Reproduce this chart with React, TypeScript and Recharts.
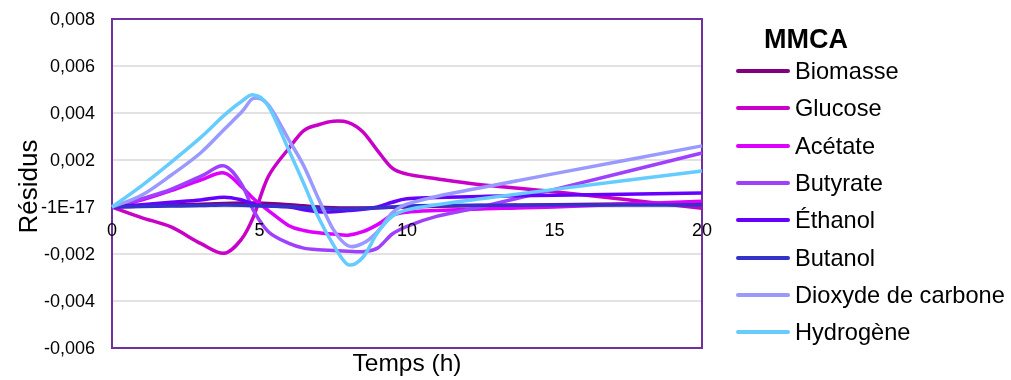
import React from 'react';
import { LineChart, Line, XAxis, YAxis, CartesianGrid, ReferenceArea, Label } from 'recharts';

// Time points (h)
const times = [0, 1, 2, 3, 3.8, 4.4, 4.8, 5.3, 6, 6.5, 7, 7.5, 8, 8.5, 9, 9.5, 10, 11, 12.5, 15, 20];

// Residuals, in units of 1e-3
const UNIT = 1e-3;
const biomasse = [0, 0.04, 0.08, 0.12, 0.15, 0.17, 0.17, 0.15, 0.1, 0.05, 0.0, -0.03, -0.04, -0.04, -0.03, -0.01, 0.0, 0.03, 0.06, 0.1, 0.15];
const glucose = [0, -0.45, -0.85, -1.55, -1.97, -1.35, -0.4, 1.3, 2.5, 3.25, 3.5, 3.65, 3.6, 3.2, 2.4, 1.65, 1.4, 1.2, 0.95, 0.65, -0.05];
const acetate = [0, 0.3, 0.7, 1.15, 1.45, 0.85, 0.35, -0.15, -0.8, -1.0, -1.1, -1.15, -1.2, -1.05, -0.75, -0.35, -0.22, -0.15, -0.08, 0.0, 0.25];
const butyrate = [0, 0.35, 0.75, 1.3, 1.75, 0.95, -0.15, -1.05, -1.55, -1.75, -1.82, -1.85, -1.88, -1.9, -1.75, -1.15, -0.82, -0.4, 0.0, 0.75, 2.3];
const ethanol = [0, 0.1, 0.2, 0.3, 0.42, 0.3, 0.12, 0.05, 0.0, -0.12, -0.2, -0.2, -0.15, -0.1, 0.0, 0.2, 0.35, 0.4, 0.45, 0.5, 0.6];
const butanol = [0, 0.02, 0.04, 0.06, 0.08, 0.07, 0.05, 0.04, 0.02, -0.02, -0.06, -0.08, -0.08, -0.06, -0.03, 0.0, 0.04, 0.06, 0.07, 0.08, 0.08];
const dioxyde = [0, 0.5, 1.35, 2.3, 3.3, 4.05, 4.62, 4.35, 2.85, 1.75, 0.35, -0.95, -1.65, -1.55, -1.05, -0.25, 0.12, 0.45, 0.82, 1.42, 2.6];
const hydrogene = [0, 0.9, 1.9, 2.95, 3.9, 4.5, 4.77, 4.3, 2.4, 1.0, -0.45, -1.6, -2.45, -2.15, -1.1, -0.4, -0.12, 0.1, 0.35, 0.75, 1.53];

const seriesNames = ['Biomasse', 'Glucose', 'Acétate', 'Butyrate', 'Éthanol', 'Butanol', 'Dioxyde de carbone', 'Hydrogène'];
const seriesValues = [biomasse, glucose, acetate, butyrate, ethanol, butanol, dioxyde, hydrogene];
const seriesColors = ['#800080', '#C800C8', '#DD00FF', '#A040FF', '#6600FF', '#3333CC', '#9999FF', '#66CCFF'];

const yTicks = [-0.006, -0.004, -0.002, 0, 0.002, 0.004, 0.006, 0.008];
const yTickLabels = ['-0,006', '-0,004', '-0,002', '-1E-17', '0,002', '0,004', '0,006', '0,008'];
const xTicks = [0, 5, 10, 15, 20];

const legendTitle = 'MMCA';
const xTitle = 'Temps (h)';
const yTitle = 'Résidus';

const data = times.map((t, i) => {
  const row: Record<string, number> = { t };
  seriesNames.forEach((name, k) => {
    row[name] = seriesValues[k][i] * UNIT;
  });
  return row;
});

const FONT = "'Liberation Sans', Arial, sans-serif";

// Excel-like smoothed line (Catmull-Rom through the points)
function excelCurve(context: any) {
  let pts: number[][] = [];
  return {
    areaStart() {},
    areaEnd() {},
    lineStart() {
      pts = [];
    },
    point(x: number, y: number) {
      pts.push([+x, +y]);
    },
    lineEnd() {
      const n = pts.length;
      if (!n) return;
      context.moveTo(pts[0][0], pts[0][1]);
      for (let i = 0; i < n - 1; i++) {
        const p0 = pts[Math.max(i - 1, 0)];
        const p1 = pts[i];
        const p2 = pts[i + 1];
        const p3 = pts[Math.min(i + 2, n - 1)];
        context.bezierCurveTo(
          p1[0] + (p2[0] - p0[0]) / 6,
          p1[1] + (p2[1] - p0[1]) / 6,
          p2[0] - (p3[0] - p1[0]) / 6,
          p2[1] - (p3[1] - p1[1]) / 6,
          p2[0],
          p2[1]
        );
      }
    },
  };
}

const XTick = (props: any) => {
  const { x, y, payload } = props;
  return (
    <text x={x} y={y - 112} textAnchor="middle" fontSize={18} fontFamily={FONT} fill="#000">
      {payload.value}
    </text>
  );
};

const yFormatter = (v: number) => {
  const idx = yTicks.findIndex((t) => Math.abs(t - v) < 1e-9);
  return idx >= 0 ? yTickLabels[idx] : String(v);
};

const YTitle = (props: any) => {
  const vb = props.viewBox || { x: 0, y: 0, width: 0, height: 0 };
  const cx = vb.x + 20;
  const cy = vb.y + vb.height / 2 + 3;
  return (
    <text
      x={cx}
      y={cy}
      transform={`rotate(-90, ${cx}, ${cy})`}
      textAnchor="middle"
      dominantBaseline="central"
      fontSize={26}
      fontFamily={FONT}
      fill="#000"
    >
      {yTitle}
    </text>
  );
};

const XTitle = (props: any) => {
  const vb = props.viewBox || { x: 0, y: 0, width: 0, height: 0 };
  return (
    <text
      x={vb.x + vb.width / 2}
      y={vb.y + 23}
      textAnchor="middle"
      fontSize={24.5}
      fontFamily={FONT}
      fill="#000"
    >
      {xTitle}
    </text>
  );
};

export default function App() {
  return (
    <div style={{ position: 'fixed', left: 8, top: 8, width: 995, height: 372, overflow: 'visible' }}>
      <LineChart width={995} height={372} data={data} margin={{ top: 11, right: 301, bottom: 0, left: 0 }}>
        <CartesianGrid horizontal vertical={false} stroke="#d9d9d9" strokeWidth={1.5} />
        <XAxis
          dataKey="t"
          type="number"
          domain={[0, 20]}
          ticks={xTicks}
          height={32}
          axisLine={false}
          tickLine={false}
          tickSize={0}
          tickMargin={0}
          tick={<XTick />}
          interval={0}
        >
          <Label content={<XTitle />} />
        </XAxis>
        <YAxis
          type="number"
          domain={[-0.006, 0.008]}
          ticks={yTicks}
          width={104}
          axisLine={false}
          tickLine={false}
          tickSize={0}
          tickMargin={17}
          interval={0}
          tickFormatter={yFormatter}
          tick={{ fontSize: 18, fontFamily: FONT, fill: '#000' }}
        >
          <Label content={<YTitle />} />
        </YAxis>
        <ReferenceArea
          x1={0}
          x2={20}
          y1={-0.006}
          y2={0.008}
          stroke="#7030A0"
          strokeWidth={2}
          fill="none"
          fillOpacity={0}
        />
        {seriesNames.map((name, k) => (
          <Line
            key={name}
            dataKey={name}
            type={excelCurve as any}
            stroke={seriesColors[k]}
            strokeWidth={3.5}
            dot={false}
            activeDot={false}
            isAnimationActive={false}
          />
        ))}
      </LineChart>
      <div
        style={{
          position: 'absolute',
          left: 728,
          top: 0,
          width: 280,
          fontFamily: FONT,
          color: '#000',
        }}
      >
        <div
          style={{
            position: 'absolute',
            left: 0,
            top: 16,
            width: 140,
            height: 30,
            lineHeight: '30px',
            textAlign: 'center',
            fontSize: 27,
            fontWeight: 'bold',
          }}
        >
          {legendTitle}
        </div>
        {seriesNames.map((name, k) => (
          <div
            key={name}
            style={{
              position: 'absolute',
              left: 0,
              top: 63 + 37.3 * k - 15,
              height: 30,
              display: 'flex',
              alignItems: 'center',
              whiteSpace: 'nowrap',
            }}
          >
            <div style={{ width: 54, height: 4, background: seriesColors[k], borderRadius: 2 }} />
            <span style={{ marginLeft: 5, fontSize: 23.6, lineHeight: '30px' }}>{name}</span>
          </div>
        ))}
      </div>
    </div>
  );
}
